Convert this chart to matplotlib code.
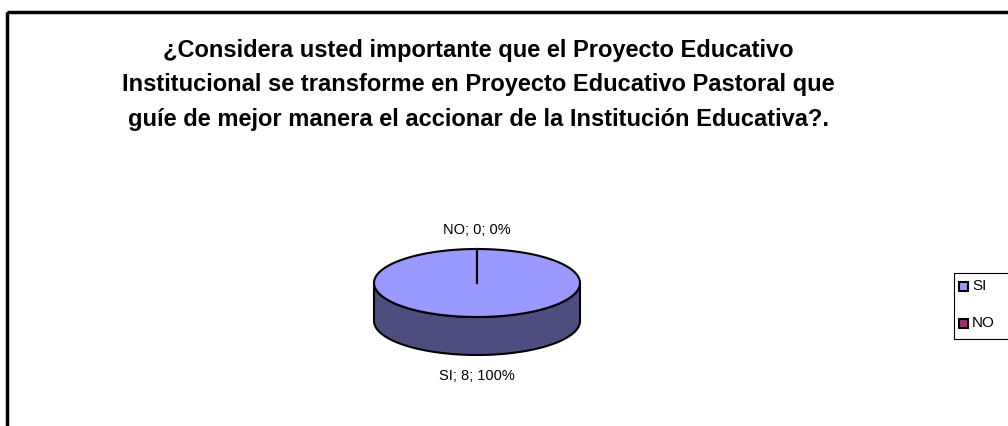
import numpy as np
import matplotlib
matplotlib.use("Agg")
import matplotlib.pyplot as plt
from matplotlib.patches import Polygon, Rectangle
from matplotlib import font_manager

categories = ["SI", "NO"]
values = [8, 0]
colors_top = ["#9999FF", "#993366"]
colors_side = ["#4D4D80", "#4D1A33"]
title = ("¿Considera usted importante que el Proyecto Educativo\n"
         "Institucional se transforme en Proyecto Educativo Pastoral que\n"
         "guíe de mejor manera el accionar de la Institución Educativa?.")

names = {f.name for f in font_manager.fontManager.ttflist}
narrow = "Liberation Sans Narrow" if "Liberation Sans Narrow" in names else "Liberation Sans"
plt.rcParams['font.family'] = [narrow, 'DejaVu Sans']

W, H = 1008, 426
fig = plt.figure(figsize=(W/100, H/100), dpi=100)
ax = fig.add_axes([0, 0, 1, 1])
ax.set_xlim(0, W)
ax.set_ylim(H, 0)
ax.axis('off')

# outer frame
ax.add_patch(Rectangle((6.5, 11.5), W + 20, H + 20, fill=False, lw=2.5, ec='black'))

ax.text(478, 85, title, ha='center', va='center', fontsize=17, fontweight='bold',
        linespacing=1.62)

cx, cy, a, b, depth = 477, 283, 103, 34, 38
total = sum(values)
start = 90.0
bounds = []
ang = start
for v in values:
    sweep = 360.0 * v / total
    bounds.append((ang - sweep, ang))
    ang -= sweep

def ept(t):
    t = np.radians(t)
    return cx + a*np.cos(t), cy - b*np.sin(t)

# side walls (front half: angles 180..360)
for (t0, t1), cs in zip(bounds, colors_side):
    if t1 - t0 <= 0:
        continue
    lo, hi = t0, t1
    segs = []
    for off in (-360, 0, 360):
        s, e = max(lo + off, -180), min(hi + off, 0)
        if e > s:
            segs.append((s, e))
    for s, e in segs:
        ts = np.linspace(s, e, 200)
        xs, ys = ept(ts)
        pts = np.column_stack([np.concatenate([xs, xs[::-1]]),
                               np.concatenate([ys, ys[::-1] + depth])])
        ax.add_patch(Polygon(pts, closed=True, fc=cs, ec='black', lw=1.5, zorder=2))

# top faces
for (t0, t1), ct in zip(bounds, colors_top):
    if t1 - t0 <= 0:
        continue
    ts = np.linspace(t0, t1, 400)
    xs, ys = ept(ts)
    if t1 - t0 >= 360:
        pts = np.column_stack([xs, ys])
    else:
        pts = np.column_stack([np.r_[cx, xs], np.r_[cy, ys]])
    ax.add_patch(Polygon(pts, closed=True, fc=ct, ec='black', lw=1.5, zorder=3))

# slice boundary lines
for (t0, t1) in bounds:
    x1, y1 = ept(t1)
    ax.plot([cx, x1], [cy, y1], color='black', lw=1.5, zorder=4)

# data labels
ax.text(cx, 230, f"{categories[1]}; {values[1]}; {values[1]/total:.0%}",
        ha='center', va='center', fontsize=10.5)
ax.text(cx, 376, f"{categories[0]}; {values[0]}; {values[0]/total:.0%}",
        ha='center', va='center', fontsize=10.5)

# legend
ax.add_patch(Rectangle((954, 273), 80, 66, fill=False, ec='black', lw=0.8))
for i, (cat, c) in enumerate(zip(categories, colors_top)):
    y = 286 + i*37
    ax.add_patch(Rectangle((959, y - 4.5), 9, 9, fc=c, ec='black', lw=1.5))
    ax.text(972, y, cat, va='center', ha='left', fontsize=11)

fig.savefig("out.png", dpi=100)
